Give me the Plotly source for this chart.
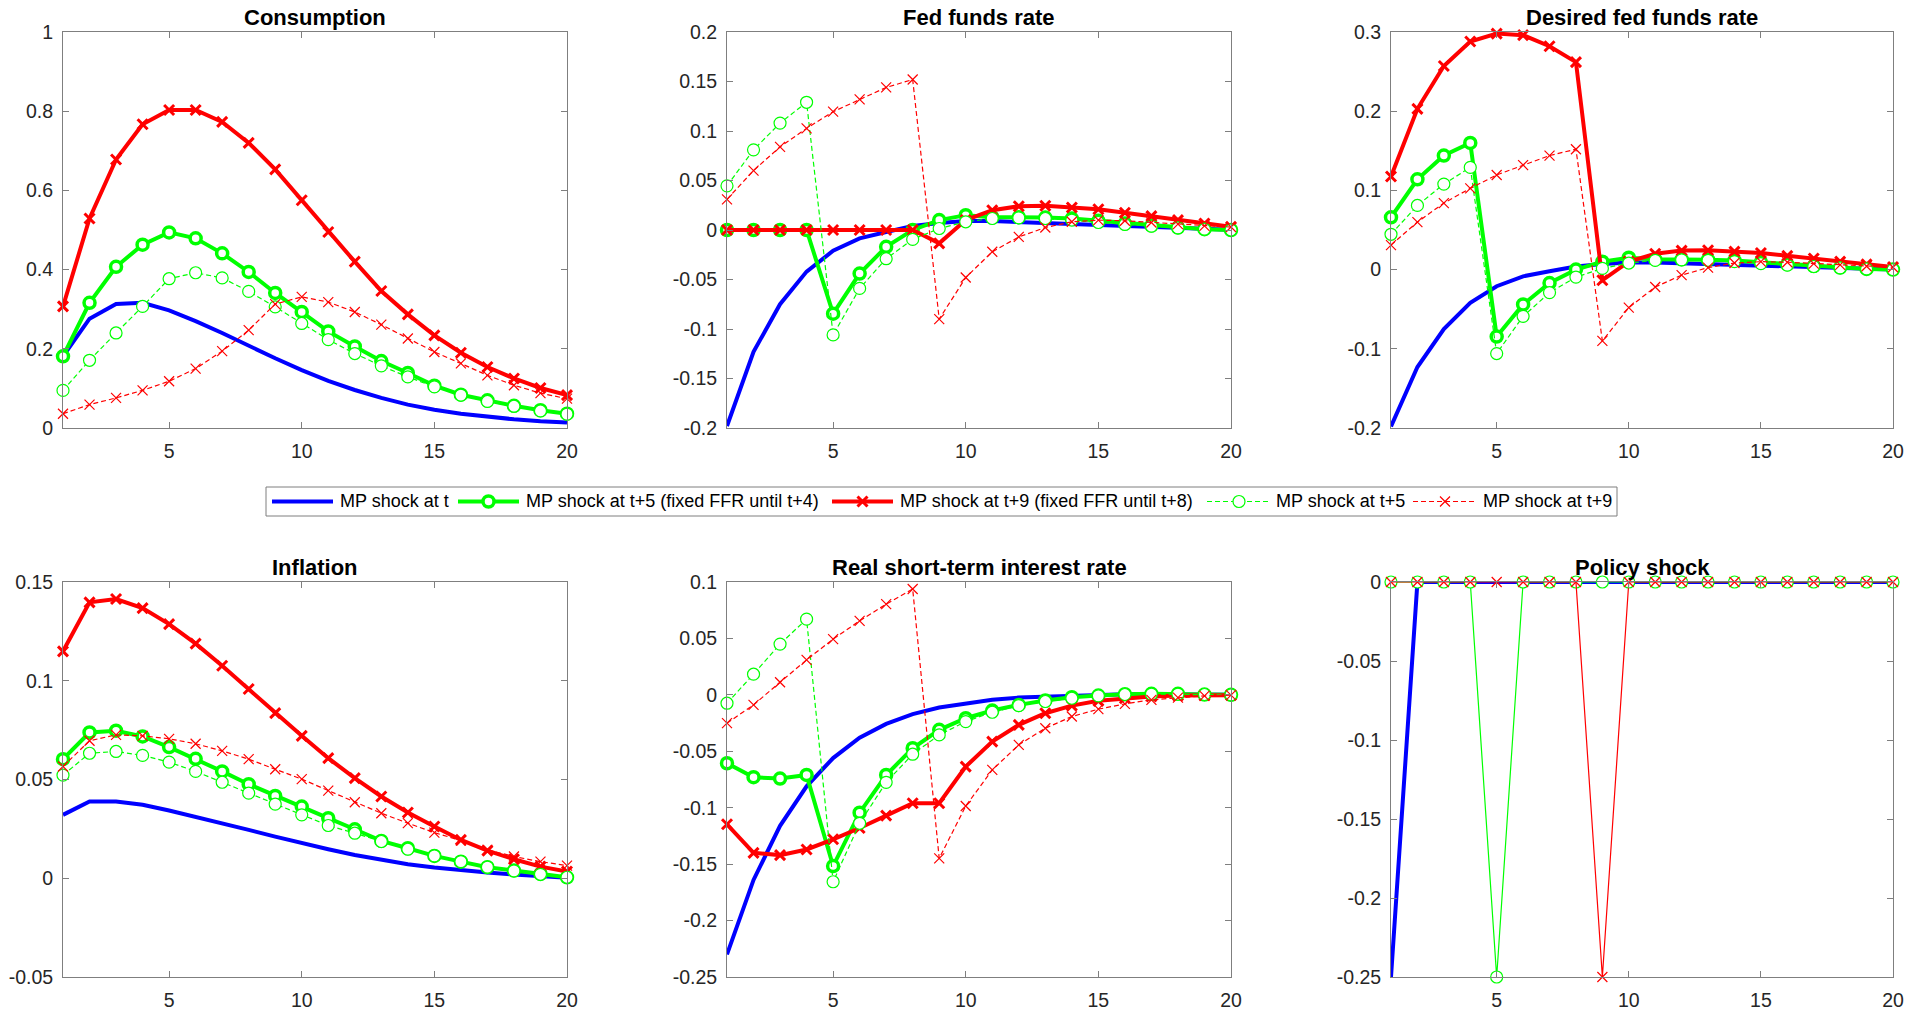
import plotly.graph_objects as go

# ---------------------------------------------------------------- data
periods = list(range(1, 21))

# Consumption
cons_t = [0.181, 0.276, 0.313, 0.316, 0.297, 0.270, 0.240, 0.207, 0.176, 0.146,
          0.119, 0.096, 0.076, 0.059, 0.046, 0.036, 0.028, 0.022, 0.017, 0.014]
cons_t5_fixed = [0.181, 0.316, 0.407, 0.463, 0.494, 0.479, 0.441, 0.394, 0.341, 0.293,
                 0.244, 0.206, 0.169, 0.139, 0.107, 0.084, 0.070, 0.056, 0.045, 0.036]
cons_t9_fixed = [0.307, 0.529, 0.678, 0.767, 0.803, 0.803, 0.773, 0.720, 0.653, 0.575,
                 0.495, 0.420, 0.346, 0.287, 0.234, 0.190, 0.154, 0.125, 0.101, 0.083]
cons_t5 = [0.095, 0.171, 0.240, 0.307, 0.377, 0.392, 0.379, 0.345, 0.306, 0.264,
           0.223, 0.188, 0.157, 0.129, 0.104, 0.083, 0.067, 0.055, 0.043, 0.035]
cons_t9 = [0.036, 0.059, 0.076, 0.095, 0.118, 0.150, 0.194, 0.247, 0.313, 0.331,
           0.318, 0.293, 0.261, 0.226, 0.192, 0.163, 0.133, 0.108, 0.088, 0.074]

# Fed funds rate
ffr_t = [-0.198, -0.123, -0.075, -0.042, -0.021, -0.0085, -0.002, 0.004, 0.007, 0.009,
         0.009, 0.008, 0.007, 0.006, 0.0045, 0.0035, 0.0025, 0.0015, 0.001, 0.0002]
ffr_t5_fixed = [0.0, 0.0, 0.0, 0.0, -0.0845, -0.044, -0.017, 0.0, 0.010, 0.015,
                0.013, 0.013, 0.0125, 0.0115, 0.0093, 0.0066, 0.0045, 0.0025, 0.0008, 0.0]
ffr_t9_fixed = [0.0, 0.0, 0.0, 0.0, 0.0, 0.0, 0.0, 0.0, -0.0135, 0.010,
                0.020, 0.024, 0.0245, 0.0227, 0.021, 0.0174, 0.014, 0.010, 0.0066, 0.0032]
ffr_t5 = [0.0446, 0.081, 0.108, 0.129, -0.106, -0.059, -0.029, -0.0095, 0.0015, 0.0083,
          0.0116, 0.0123, 0.0116, 0.010, 0.0076, 0.0056, 0.0039, 0.0022, 0.0008, 0.0]
ffr_t9 = [0.031, 0.060, 0.084, 0.1026, 0.1195, 0.132, 0.144, 0.152, -0.090, -0.048,
          -0.022, -0.007, 0.0025, 0.0083, 0.010, 0.0093, 0.0076, 0.006, 0.0042, 0.003]

# Desired fed funds rate
dffr_t = ffr_t
dffr_t5_fixed = [0.066, 0.114, 0.144, 0.160, -0.0845, -0.044, -0.017, 0.0, 0.010, 0.015,
                 0.013, 0.013, 0.0125, 0.0115, 0.0093, 0.0066, 0.0045, 0.0025, 0.0008, 0.0]
dffr_t9_fixed = [0.1175, 0.203, 0.257, 0.288, 0.298, 0.296, 0.282, 0.262, -0.0135, 0.010,
                 0.020, 0.024, 0.0245, 0.0227, 0.021, 0.0174, 0.014, 0.010, 0.0066, 0.0032]
dffr_t5 = ffr_t5
dffr_t9 = ffr_t9

# Inflation
infl_t = [0.0321, 0.0389, 0.0389, 0.0372, 0.0343, 0.0312, 0.0279, 0.0245, 0.0211, 0.0177,
          0.0147, 0.0118, 0.0093, 0.0071, 0.0054, 0.0039, 0.0029, 0.0019, 0.0012, 0.0003]
infl_t5_fixed = [0.0603, 0.0738, 0.0747, 0.0718, 0.0664, 0.0605, 0.0541, 0.0476, 0.0417, 0.0363,
                 0.0304, 0.0248, 0.0189, 0.0152, 0.0113, 0.0084, 0.0056, 0.0039, 0.0022, 0.0005]
infl_t9_fixed = [0.1149, 0.1397, 0.1414, 0.1368, 0.1287, 0.1188, 0.1076, 0.0958, 0.0836, 0.0721,
                 0.0608, 0.0507, 0.0414, 0.0333, 0.0262, 0.0194, 0.0140, 0.0096, 0.0059, 0.0034]
infl_t5 = [0.0522, 0.0633, 0.0642, 0.0622, 0.0588, 0.0541, 0.0486, 0.0431, 0.0375, 0.0321,
           0.0267, 0.0228, 0.0186, 0.0147, 0.0113, 0.0084, 0.0056, 0.0037, 0.0020, 0.0005]
infl_t9 = [0.0566, 0.0696, 0.0726, 0.0721, 0.0706, 0.0681, 0.0645, 0.0603, 0.0552, 0.0502,
           0.0444, 0.0385, 0.0329, 0.0279, 0.0231, 0.0191, 0.0144, 0.0110, 0.0084, 0.0064]

# Real short-term interest rate
real_t = [-0.230, -0.164, -0.116, -0.081, -0.056, -0.038, -0.0257, -0.017, -0.0112, -0.0074,
          -0.0044, -0.0024, -0.0015, -0.0006, 0.0, 0.0005, 0.0005, 0.0003, 0.0002, 0.0001]
real_t5_fixed = [-0.0606, -0.073, -0.0742, -0.071, -0.1517, -0.1044, -0.071, -0.0473, -0.031, -0.0207,
                 -0.0139, -0.0089, -0.005, -0.0021, -0.0006, 0.0006, 0.0009, 0.0009, 0.0003, 0.0]
real_t9_fixed = [-0.1147, -0.140, -0.142, -0.137, -0.128, -0.118, -0.107, -0.096, -0.096, -0.0636,
                 -0.0414, -0.0266, -0.0163, -0.0095, -0.0053, -0.003, -0.0015, -0.0006, -0.0003, -0.0003]
real_t5 = [-0.0074, 0.0183, 0.045, 0.0671, -0.1656, -0.1138, -0.0775, -0.0526, -0.0355, -0.0237,
           -0.0154, -0.0095, -0.0059, -0.003, -0.0009, 0.0003, 0.0006, 0.0006, 0.0003, 0.0]
real_t9 = [-0.0251, -0.0089, 0.0112, 0.031, 0.0494, 0.0656, 0.0804, 0.0938, -0.1449, -0.0985,
           -0.0665, -0.0443, -0.0296, -0.0192, -0.0127, -0.008, -0.0044, -0.0024, -0.0009, -0.0003]

# Policy shock
shock_t = [-0.25, 0, 0, 0, 0, 0, 0, 0, 0, 0, 0, 0, 0, 0, 0, 0, 0, 0, 0, 0]
shock_t5 = [0, 0, 0, 0, -0.25, 0, 0, 0, 0, 0, 0, 0, 0, 0, 0, 0, 0, 0, 0, 0]
shock_t9 = [0, 0, 0, 0, 0, 0, 0, 0, -0.25, 0, 0, 0, 0, 0, 0, 0, 0, 0, 0, 0]

# Panel titles and axis ticks
panel_titles = ["Consumption", "Fed funds rate", "Desired fed funds rate",
                "Inflation", "Real short-term interest rate", "Policy shock"]
x_ticks = [5, 10, 15, 20]
x_tick_labels = ["5", "10", "15", "20"]
y_ticks = [
    [0, 0.2, 0.4, 0.6, 0.8, 1],
    [-0.2, -0.15, -0.1, -0.05, 0, 0.05, 0.1, 0.15, 0.2],
    [-0.2, -0.1, 0, 0.1, 0.2, 0.3],
    [-0.05, 0, 0.05, 0.1, 0.15],
    [-0.25, -0.2, -0.15, -0.1, -0.05, 0, 0.05, 0.1],
    [-0.25, -0.2, -0.15, -0.1, -0.05, 0],
]
y_tick_labels = [
    ["0", "0.2", "0.4", "0.6", "0.8", "1"],
    ["-0.2", "-0.15", "-0.1", "-0.05", "0", "0.05", "0.1", "0.15", "0.2"],
    ["-0.2", "-0.1", "0", "0.1", "0.2", "0.3"],
    ["-0.05", "0", "0.05", "0.1", "0.15"],
    ["-0.25", "-0.2", "-0.15", "-0.1", "-0.05", "0", "0.05", "0.1"],
    ["-0.25", "-0.2", "-0.15", "-0.1", "-0.05", "0"],
]
y_ranges = [[0, 1], [-0.2, 0.2], [-0.2, 0.3], [-0.05, 0.15], [-0.25, 0.1], [-0.25, 0]]

series_names = ["MP shock at t",
                "MP shock at t+5 (fixed FFR until t+4)",
                "MP shock at t+9 (fixed FFR until t+8)",
                "MP shock at t+5",
                "MP shock at t+9"]

panels = [
    [cons_t, cons_t5_fixed, cons_t9_fixed, cons_t5, cons_t9],
    [ffr_t, ffr_t5_fixed, ffr_t9_fixed, ffr_t5, ffr_t9],
    [dffr_t, dffr_t5_fixed, dffr_t9_fixed, dffr_t5, dffr_t9],
    [infl_t, infl_t5_fixed, infl_t9_fixed, infl_t5, infl_t9],
    [real_t, real_t5_fixed, real_t9_fixed, real_t5, real_t9],
    [shock_t, None, None, shock_t5, shock_t9],
]

# ---------------------------------------------------------------- styling
W, H = 1925, 1012
FONT = "Liberation Sans, Arial, Helvetica, sans-serif"
BLUE, GREEN, RED = "#0000FF", "#00FF00", "#FF0000"
AXIS_GRAY = "#7f7f7f"
TICK_TEXT = "#262626"
DASH = "5px,3px"

def series_style(k, solid_thin=False):
    if k == 0:
        return dict(mode="lines", line=dict(color=BLUE, width=4))
    if k == 1:
        return dict(mode="lines+markers", line=dict(color=GREEN, width=4),
                    marker=dict(symbol="circle", size=11, color="white",
                                line=dict(color=GREEN, width=3.5)))
    if k == 2:
        return dict(mode="lines+markers", line=dict(color=RED, width=4),
                    marker=dict(symbol="x-thin-open", size=10, color=RED,
                                line=dict(color=RED, width=3)))
    if k == 3:
        return dict(mode="lines+markers",
                    line=dict(color=GREEN, width=1.2, dash="solid" if solid_thin else DASH),
                    marker=dict(symbol="circle", size=12, color="white",
                                line=dict(color=GREEN, width=1.2)))
    return dict(mode="lines+markers",
                line=dict(color=RED, width=1.2, dash="solid" if solid_thin else DASH),
                marker=dict(symbol="x-thin-open", size=10, color=RED,
                            line=dict(color=RED, width=1.2)))

# axes rectangles in pixels: (left, right, top, bottom)
col_px = [(63, 567), (727, 1231), (1391, 1893)]
row_px = [(32, 428), (582, 977)]

fig = go.Figure()
layout = dict(width=W, height=H, margin=dict(l=0, r=0, t=0, b=0, pad=0, autoexpand=False),
              paper_bgcolor="white", plot_bgcolor="rgba(0,0,0,0)",
              showlegend=False, font=dict(family=FONT, color=TICK_TEXT))
annotations = []

for i, series in enumerate(panels):
    r, c = divmod(i, 3)
    l_px, r_px = col_px[c]
    t_px, b_px = row_px[r]
    ax = "" if i == 0 else str(i + 1)
    layout["xaxis" + ax] = dict(
        domain=[l_px / W, r_px / W], anchor="y" + ax, range=[1, 20],
        tickvals=x_ticks, ticktext=x_tick_labels, ticks="inside", ticklen=6,
        tickcolor=AXIS_GRAY, showline=True, linecolor=AXIS_GRAY, linewidth=1,
        mirror="ticks", showgrid=False, zeroline=False, ticklabelstandoff=6,
        automargin=False,
        tickfont=dict(size=19.5, family=FONT, color=TICK_TEXT))
    layout["yaxis" + ax] = dict(
        domain=[1 - b_px / H, 1 - t_px / H], anchor="x" + ax, range=y_ranges[i],
        tickvals=y_ticks[i], ticktext=y_tick_labels[i], ticks="inside", ticklen=6,
        tickcolor=AXIS_GRAY, showline=True, linecolor=AXIS_GRAY, linewidth=1,
        mirror="ticks", showgrid=False, zeroline=False, ticklabelstandoff=5,
        automargin=False,
        tickfont=dict(size=19.5, family=FONT, color=TICK_TEXT))
    for k, ys in enumerate(series):
        if ys is None:
            continue
        fig.add_trace(go.Scatter(x=periods, y=ys, name=series_names[k],
                                 xaxis="x" + ax, yaxis="y" + ax, cliponaxis=False,
                                 **series_style(k, solid_thin=(i == 5))))
    annotations.append(dict(
        text=panel_titles[i], xref="paper", yref="paper",
        x=(l_px + r_px) / 2 / W, y=1 - (t_px - 15) / H,
        xanchor="center", yanchor="middle", showarrow=False,
        font=dict(size=22, family=FONT, color="black", weight="bold")))

# ---------------------------------------------------------------- legend
# drawn on a hidden pixel-space axis spanning the whole figure
layout["xaxis7"] = dict(domain=[0, 1], range=[0, W], visible=False, anchor="y7",
                        fixedrange=True, automargin=False)
layout["yaxis7"] = dict(domain=[0, 1], range=[H, 0], visible=False, anchor="x7",
                        fixedrange=True, automargin=False)
leg_box = (266, 1617, 487, 516)
leg_y = (leg_box[2] + leg_box[3]) / 2
leg_samples = [(272, 333), (458, 519), (832, 893), (1207, 1271), (1413, 1477)]
leg_text_x = [338, 524, 898, 1274, 1481]

shapes = [dict(type="rect", xref="paper", yref="paper",
               x0=leg_box[0] / W, x1=leg_box[1] / W,
               y0=1 - leg_box[3] / H, y1=1 - leg_box[2] / H,
               line=dict(color=AXIS_GRAY, width=1), fillcolor="white", layer="below")]

for k, (x0, x1) in enumerate(leg_samples):
    st = series_style(k)
    fig.add_trace(go.Scatter(x=[x0, x1], y=[leg_y, leg_y], mode="lines", line=st["line"],
                             xaxis="x7", yaxis="y7", hoverinfo="skip", cliponaxis=False))
    if "marker" in st:
        fig.add_trace(go.Scatter(x=[(x0 + x1) / 2], y=[leg_y], mode="markers",
                                 marker=st["marker"], xaxis="x7", yaxis="y7",
                                 hoverinfo="skip", cliponaxis=False))
    annotations.append(dict(
        text=series_names[k], xref="paper", yref="paper",
        x=leg_text_x[k] / W, y=1 - leg_y / H, xanchor="left", yanchor="middle",
        showarrow=False, font=dict(size=18, family=FONT, color="black")))

layout["annotations"] = annotations
layout["shapes"] = shapes
fig.update_layout(**layout)
fig.write_html("out.html", config={"displayModeBar": False})
